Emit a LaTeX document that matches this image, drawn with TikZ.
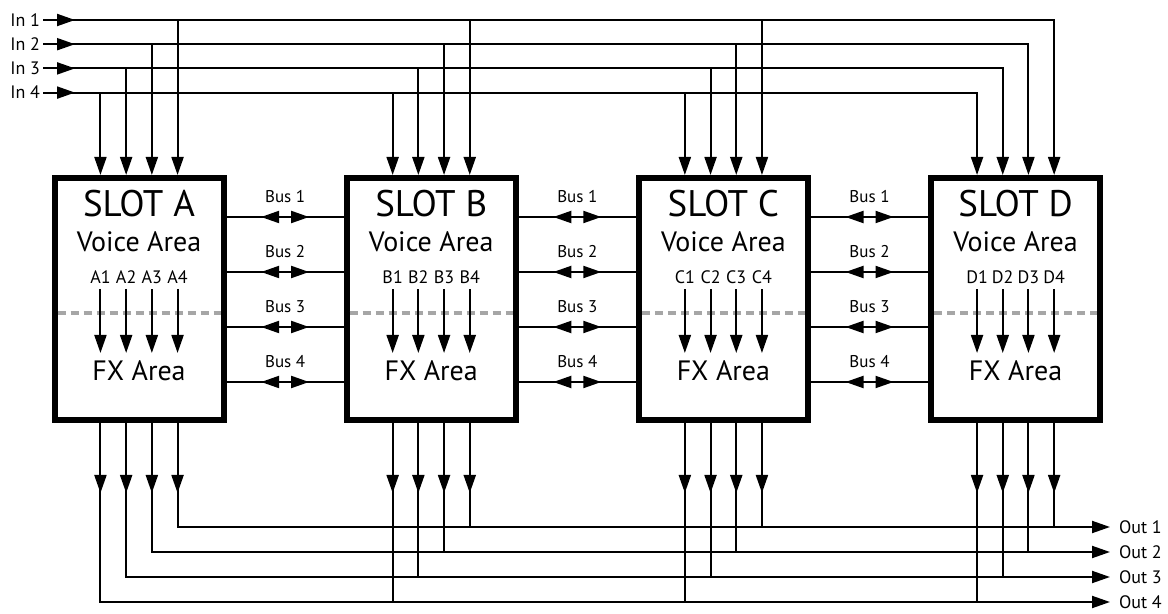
\documentclass[tikz,border=0pt]{standalone}
\usepackage{fontspec}
\setmainfont{PT Sans}
\usetikzlibrary{positioning, arrows.meta, calc}

\begin{document}
\begin{tikzpicture}[x=0.5pt, y=-0.5pt, line width=1pt,
      slot/.style={draw, line width=3pt, minimum width=84.5pt, minimum height=121pt, inner sep=0pt},
      arr/.style={-{Triangle[length=9pt, width=6pt]}},
      busarr/.style={{Triangle[length=9pt, width=6pt]}-{Triangle[length=9pt, width=6pt]}},
      divider/.style={draw=black!35, line width=2pt, dash pattern=on 4pt off 2.5pt},
      title/.style={font=\fontsize{18.5}{20}\selectfont, inner sep=0pt, anchor=base},
      area/.style={font=\fontsize{14}{16}\selectfont, inner sep=0pt, anchor=base},
      ch/.style={font=\fontsize{9}{10}\selectfont, inner sep=2pt, anchor=base},
      busname/.style={font=\fontsize{8.5}{10}\selectfont, inner sep=0pt},
      io/.style={font=\fontsize{9}{11}\selectfont, inner sep=0pt}]
  \useasboundingbox (0,0) rectangle (1168,614);

  % slots
  \node[slot] (A) at (139,299) {};
  \node[slot, right=58.6pt of A] (B) {};
  \node[slot, right=58.6pt of B] (C) {};
  \node[slot, right=58.6pt of C] (D) {};

  \foreach \s in {A,B,C,D} {
    \node[title] (\s-title) at ([yshift=41pt]\s.center) {SLOT \s};
    \node[area] (\s-voice) at ([yshift=23.5pt]\s.center) {Voice Area};
    \node[area] (\s-fx) at ([yshift=-41pt]\s.center) {FX Area};
    \draw[divider] ([xshift=3pt, yshift=-7pt]\s.west) -- ([xshift=-3pt, yshift=-7pt]\s.east);
    \foreach \j in {1,...,4} {
      \path ([xshift={(\j-2.5)*12.85pt}]\s.north) coordinate (\s-top\j);
      \path ([xshift={(\j-2.5)*12.85pt}]\s.south) coordinate (\s-bot\j);
      \node[ch] (\s\j) at ([xshift={(\j-2.5)*12.85pt}, yshift=7.5pt]\s.center) {\s\j};
      \coordinate (\s-fxin\j) at ([xshift={(\j-2.5)*12.85pt}, yshift=-27pt]\s.center);
      \draw[arr] (\s\j) -- (\s-fxin\j);
      \coordinate (\s-mid\j) at ([yshift=-35pt]\s-bot\j);
    }
  }

  % buses between slots
  \foreach \a/\b in {A/B, B/C, C/D} {
    \foreach \n/\dy in {1/41, 2/13.5, 3/-14, 4/-41.5} {
      \coordinate (\a\b-l\n) at ([yshift=\dy pt]\a.east);
      \coordinate (\a\b-r\n) at ([yshift=\dy pt]\b.west);
      \coordinate (\a\b-m\n) at ($(\a\b-l\n)!0.5!(\a\b-r\n)$);
      \draw (\a\b-l\n) -- (\a\b-r\n);
      \draw[busarr] ([xshift=-12pt]\a\b-m\n) -- ([xshift=12pt]\a\b-m\n);
      \node[busname, above=6.5pt of \a\b-m\n] (\a\b-lbl\n) {Bus \n};
    }
  }

  % inputs
  \foreach \k in {1,...,4} {
    \pgfmathtruncatemacro{\j}{5-\k}
    \coordinate (in\k) at (43, {20+24.2*(\k-1)});
    \node[io, left=1pt of in\k] (inlbl\k) {In \k};
    \coordinate (inhead\k) at ([xshift=16pt]in\k);
    \draw[arr] (in\k) -- (inhead\k);
    \draw[arr] (in\k) -| (D-top\j);
    \foreach \s in {A,B,C} {
      \coordinate (\s-tap\j) at (\s-top\j |- in\k);
      \draw[arr] (\s-tap\j) -- (\s-top\j);
    }
  }

  % outputs
  \foreach \m in {1,...,4} {
    \pgfmathtruncatemacro{\j}{5-\m}
    \coordinate (out\m) at (1110, {527+25*(\m-1)});
    \node[io, right=4pt of out\m] (outlbl\m) {Out \m};
    \draw[arr] (A-bot\j) |- (out\m);
    \draw[arr] (A-bot\j) -- (A-mid\j);
    \foreach \s in {B,C,D} {
      \coordinate (\s-tapout\j) at (\s-bot\j |- out\m);
      \draw (\s-bot\j) -- (\s-tapout\j);
      \draw[arr] (\s-bot\j) -- (\s-mid\j);
    }
  }
\end{tikzpicture}
\end{document}
